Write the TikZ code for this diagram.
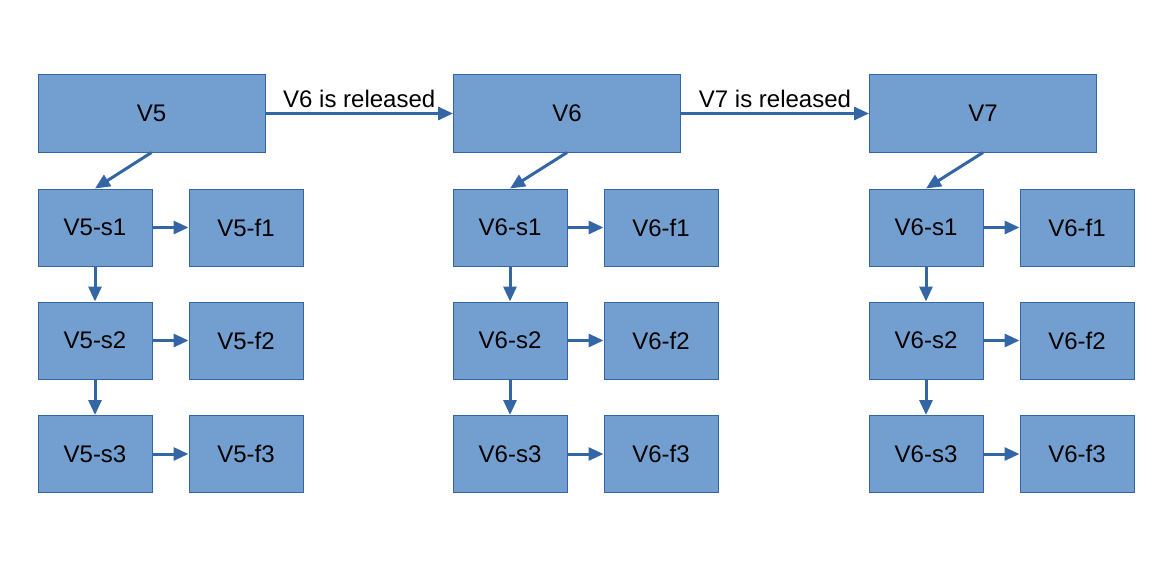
\documentclass[tikz,border=0pt]{standalone}
\usepackage{fontspec}
\setmainfont{Liberation Sans}
\usetikzlibrary{arrows.meta}
\definecolor{boxfill}{HTML}{729FCF}
\definecolor{boxline}{HTML}{3465A4}
\begin{document}
\begin{tikzpicture}[x=1pt,y=-1pt,
  box/.style={draw=boxline,line width=1pt,fill=boxfill,inner sep=0pt,font=\fontsize{24}{28}\selectfont},
  big/.style={box,minimum width=227pt,minimum height=77pt},
  small/.style={box,minimum width=114pt,minimum height=77pt},
  conn/.style={draw=boxline,line width=3pt,-{Triangle[length=15pt,width=13pt]}},
  lbl/.style={font=\fontsize{24}{28}\selectfont,inner sep=0pt}]
\useasboundingbox (0,0) rectangle (1172,567);
% top row
\node[big] (V5) at (151.5,113.5) {V5};
\node[big] (V6) at (567,113.5) {V6};
\node[big] (V7) at (983,113.5) {V7};
\draw[conn] (V5.east) -- node[lbl,above=4pt] {V6 is released} (V6.west);
\draw[conn] (V6.east) -- node[lbl,above=4pt] {V7 is released} (V7.west);
% V5 column
\node[small] (a1) at (95,227.5) {V5-s1};
\node[small] (a2) at (95,340.5) {V5-s2};
\node[small] (a3) at (95,454) {V5-s3};
\node[small] (af1) at (246,227.5) {V5-f1};
\node[small] (af2) at (246,340.5) {V5-f2};
\node[small] (af3) at (246,454) {V5-f3};
% V6 column
\node[small] (b1) at (510,227.5) {V6-s1};
\node[small] (b2) at (510,340.5) {V6-s2};
\node[small] (b3) at (510,454) {V6-s3};
\node[small] (bf1) at (661,227.5) {V6-f1};
\node[small] (bf2) at (661,340.5) {V6-f2};
\node[small] (bf3) at (661,454) {V6-f3};
% V7 column
\node[small] (c1) at (926,227.5) {V6-s1};
\node[small] (c2) at (926,340.5) {V6-s2};
\node[small] (c3) at (926,454) {V6-s3};
\node[small] (cf1) at (1077,227.5) {V6-f1};
\node[small] (cf2) at (1077,340.5) {V6-f2};
\node[small] (cf3) at (1077,454) {V6-f3};
% connectors
\foreach \p in {a,b,c}{
  \draw[conn] (\p1.east) -- (\p f1.west);
  \draw[conn] (\p2.east) -- (\p f2.west);
  \draw[conn] (\p3.east) -- (\p f3.west);
  \draw[conn] (\p1.south) -- (\p2.north);
  \draw[conn] (\p2.south) -- (\p3.north);
}
\draw[conn] (V5.south) -- (a1.north);
\draw[conn] (V6.south) -- (b1.north);
\draw[conn] (V7.south) -- (c1.north);
\end{tikzpicture}
\end{document}
